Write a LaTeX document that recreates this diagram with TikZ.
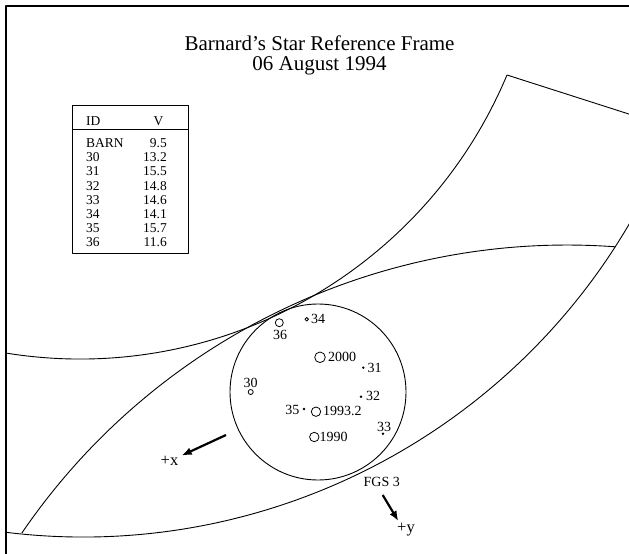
\documentclass[tikz,border=0pt]{standalone}
\usepackage{fontspec}
\setmainfont{Liberation Serif}
\usetikzlibrary{arrows.meta}
\begin{document}
\begin{tikzpicture}[x=1pt,y=-1pt,line join=round,
  curve/.style={line width=0.9pt},
  ring/.style={draw,circle,line width=0.8pt,inner sep=0pt},
  dotstar/.style={fill,circle,inner sep=0pt,minimum size=2.6pt},
  lbl/.style={inner sep=0pt,font=\fontsize{14}{16}\selectfont},
  tbl/.style={inner sep=0pt,font=\fontsize{13.5}{14}\selectfont},
  axisarrow/.style={line width=2.2pt,-{Latex[length=10pt,width=8pt]}},
  axislbl/.style={inner sep=0pt,font=\fontsize{16.5}{18}\selectfont}]
\useasboundingbox (0,0) rectangle (629,554);
\clip (0,0) rectangle (629,554);
\fill[white] (0,0) rectangle (629,554);
% frame
\draw[line width=2pt] (6,6) rectangle (720,720);
% title
\node[anchor=base,inner sep=0pt,font=\fontsize{21}{20}\selectfont] (title1) at (319.5,50) {Barnard's Star Reference Frame};
\node[anchor=base,inner sep=0pt,font=\fontsize{21}{20}\selectfont] (title2) at (319.5,70) {06 August 1994};
% table
\draw[line width=1pt] (72,105) rectangle (188,253);
\draw[line width=1pt] (72,129) -- (188,129);
\node[tbl,anchor=base west] (idhead) at (86,125.4) {ID};
\node[tbl,anchor=base] (vhead) at (158.4,125.4) {V};
\foreach \id/\v [count=\i] in {BARN/9.5,30/13.2,31/15.5,32/14.8,33/14.6,34/14.1,35/15.7,36/11.6}{
  \node[tbl,anchor=base west] (id\i) at (86,133.33+14.17*\i) {\id};
  \node[tbl,anchor=base east] (v\i) at (167,133.33+14.17*\i) {\v};
}
% field of view arcs, clipped at the frame
\begin{scope}
\clip (7,7) rectangle (720,720);
\draw[curve] ([shift={(22.75:463)}]80,-104) arc[start angle=22.75,end angle=101,radius=463];
\draw[curve] ([shift={(22:633)}]83,-96) arc[start angle=22,end angle=99,radius=633];
\draw[curve] ([shift={(214.3:660)}]567,905) arc[start angle=214.3,end angle=274.2,radius=660];
\coordinate (corner) at (507,75);
\coordinate (edgeout) at (700,136.8);
\draw[curve] (corner) -- (edgeout);
\end{scope}
% reference circle
\coordinate (ctr) at (318,392);
\draw[curve] (ctr) circle[radius=88];
% stars
\node[ring,minimum size=8pt] (s36) at (279.3,322.7) {};
\node[lbl,anchor=north] (l36) at (280,330.5) {36};
\node[ring,minimum size=3.6pt] (s34) at (306.7,319.3) {};
\node[lbl,anchor=west] (l34) at (311,319.3) {34};
\node[ring,minimum size=10.6pt] (s2000) at (320,357.3) {};
\node[lbl,anchor=west] (l2000) at (328,357) {2000};
\node[dotstar] (s31) at (363.3,367.7) {};
\node[lbl,anchor=west] (l31) at (367.5,367.5) {31};
\node[ring,minimum size=5pt] (s30) at (250.7,392) {};
\node[lbl,anchor=south] (l30) at (250.7,388) {30};
\node[dotstar] (s32) at (361,396.7) {};
\node[lbl,anchor=west] (l32) at (366,395.5) {32};
\node[dotstar] (s35) at (304,409) {};
\node[lbl,anchor=east] (l35) at (299.5,410) {35};
\node[ring,minimum size=9.4pt] (s1993) at (316,411.7) {};
\node[lbl,anchor=west] (l1993) at (323,411) {1993.2};
\node[dotstar] (s33) at (383,433.7) {};
\node[lbl,anchor=south] (l33) at (384,431.5) {33};
\node[ring,minimum size=9.4pt] (s1990) at (314.3,437) {};
\node[lbl,anchor=west] (l1990) at (319.5,437) {1990};
% axes
\coordinate (xstart) at (226,435);
\coordinate (xtip) at (181.7,455.5);
\draw[axisarrow] (xstart) -- (xtip);
\node[axislbl] (xlab) at (169.5,461) {+x};
\node[lbl] (fgs) at (381.7,482) {FGS 3};
\coordinate (ystart) at (382.7,495);
\coordinate (ytip) at (398.3,521);
\draw[axisarrow] (ystart) -- (ytip);
\node[axislbl] (ylab) at (406,529.5) {+y};
\end{tikzpicture}
\end{document}
